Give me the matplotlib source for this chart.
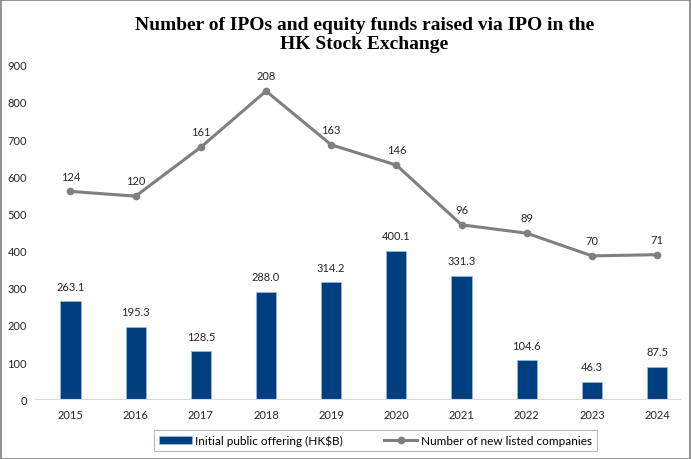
import numpy as np
import matplotlib.pyplot as plt
from matplotlib.patches import Rectangle

years = ['2015', '2016', '2017', '2018', '2019', '2020', '2021', '2022', '2023', '2024']
ipo_funds = [263.1, 195.3, 128.5, 288.0, 314.2, 400.1, 331.3, 104.6, 46.3, 87.5]
new_listed = [124, 120, 161, 208, 163, 146, 96, 89, 70, 71]

bar_color = '#003f7f'
line_color = '#7f7f7f'
font = 'Lato'

fig = plt.figure(figsize=(6.91, 4.60), dpi=100)
ax = fig.add_axes([0.051, 0.130, 0.933, 0.727])
ax2 = ax.twinx()

x = np.arange(len(years))

# bars on the left axis
bars = ax.bar(x, ipo_funds, width=0.31, color=bar_color, edgecolor='#9dbbe0', linewidth=0.5,
	label='Initial public offering (HK$B)', zorder=2)
for xi, v in zip(x, ipo_funds):
	ax.annotate('%.1f' % v, (xi, v), xytext=(0, 7), textcoords='offset points',
		ha='center', va='bottom', fontsize=8, family=font, color='#262626')

# line on a hidden secondary axis
line, = ax2.plot(x, new_listed, color=line_color, linewidth=2.2, marker='o', markersize=4.5,
	label='Number of new listed companies', zorder=3)
for xi, v in zip(x, new_listed):
	ax2.annotate('%d' % v, (xi, v), xytext=(0, 7), textcoords='offset points',
		ha='center', va='bottom', fontsize=8, family=font, color='#262626')

ax.set_ylim(0, 900)
ax.set_yticks(np.arange(0, 901, 100))
ax2.set_ylim(-50, 230)
ax.set_xlim(-0.54, 9.35)
ax.set_xticks(x)
ax.set_xticklabels(years)

for a in (ax, ax2):
	for s in ('top', 'right', 'left'):
		a.spines[s].set_visible(False)
	a.spines['bottom'].set_color('#d9d9d9')
ax2.spines['bottom'].set_visible(False)
ax2.set_yticks([])
ax.tick_params(axis='both', length=0, labelsize=8, labelcolor='#262626')
ax.tick_params(axis='x', pad=7)
ax.tick_params(axis='y', pad=6)
for lab in ax.get_xticklabels() + ax.get_yticklabels():
	lab.set_family(font)

fig.text(0.527, 0.964, 'Number of IPOs and equity funds raised via IPO in the\nHK Stock Exchange',
	ha='center', va='top', fontsize=14, fontweight='bold', family='Liberation Serif',
	linespacing=1.15)

leg = fig.legend([bars, line], ['Initial public offering (HK$B)', 'Number of new listed companies'],
	loc='center', bbox_to_anchor=(0.543, 0.040), ncol=2, fancybox=False,
	prop={'family': font, 'size': 8.5}, handlelength=2.8, columnspacing=3.5,
	borderpad=0.4, handletextpad=0.3, borderaxespad=0)
leg.get_frame().set_edgecolor('#a6a6a6')
leg.get_frame().set_linewidth(0.8)

# outer border of the picture
fig.patches.append(Rectangle((0.001, 0.001), 0.997, 0.997, transform=fig.transFigure,
	fill=False, edgecolor='#7f7f7f', linewidth=1.2))

fig.savefig('out.png', dpi=100)
